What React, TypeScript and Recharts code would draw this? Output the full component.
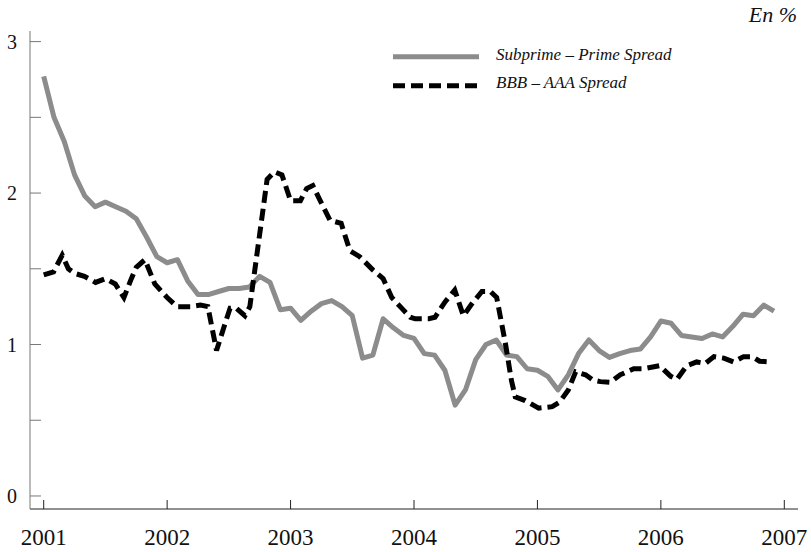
import React from 'react';
import { LineChart, Line, XAxis, YAxis, Legend } from 'recharts';

// Subprime – Prime spread, monthly from Jan 2001 to Dec 2006 (%)
const subprimeValues = [
  2.77, 2.50, 2.34, 2.12, 1.98, 1.91, 1.94, 1.91, 1.88, 1.83, 1.71, 1.58,
  1.54, 1.56, 1.42, 1.33, 1.33, 1.35, 1.37, 1.37, 1.38, 1.45, 1.41, 1.23,
  1.24, 1.16, 1.22, 1.27, 1.29, 1.25, 1.19, 0.91, 0.93, 1.17, 1.11, 1.06,
  1.04, 0.94, 0.93, 0.83, 0.60, 0.70, 0.90, 1.00, 1.03, 0.93, 0.92, 0.84,
  0.83, 0.79, 0.70, 0.80, 0.94, 1.03, 0.96, 0.915, 0.94, 0.96, 0.97, 1.05,
  1.155, 1.14, 1.06, 1.05, 1.04, 1.07, 1.05, 1.12, 1.20, 1.19, 1.26, 1.22,
];
const subprimeStartYear = 2001;

// BBB – AAA spread (decimal year, %)
const bbbDates = [
  2001.0, 2001.08, 2001.15, 2001.2, 2001.25, 2001.33, 2001.42, 2001.5, 2001.58, 2001.65,
  2001.71, 2001.75, 2001.82, 2001.9, 2002.0, 2002.08, 2002.19, 2002.27, 2002.33, 2002.4,
  2002.47, 2002.51, 2002.56, 2002.63, 2002.67, 2002.81, 2002.87, 2002.93, 2003.0, 2003.08,
  2003.13, 2003.18, 2003.24, 2003.32, 2003.41, 2003.48, 2003.56, 2003.67, 2003.75, 2003.82,
  2003.9, 2003.97, 2004.01, 2004.12, 2004.17, 2004.25, 2004.33, 2004.4, 2004.47, 2004.55,
  2004.62, 2004.67, 2004.74, 2004.79, 2004.82, 2004.9, 2005.01, 2005.12, 2005.18, 2005.25,
  2005.31, 2005.39, 2005.45, 2005.51, 2005.59, 2005.67, 2005.78, 2005.86, 2005.99, 2006.08,
  2006.13, 2006.21, 2006.29, 2006.36, 2006.43, 2006.51, 2006.59, 2006.67, 2006.74, 2006.8,
  2006.89,
];
const bbbValues = [
  1.46, 1.48, 1.59, 1.5, 1.47, 1.45, 1.41, 1.435, 1.4, 1.31,
  1.435, 1.51, 1.56, 1.4, 1.31, 1.25, 1.25, 1.26, 1.25, 0.96,
  1.14, 1.24, 1.24, 1.19, 1.25, 2.09, 2.14, 2.12, 1.95, 1.95,
  2.03, 2.05, 1.95, 1.82, 1.8, 1.62, 1.58, 1.49, 1.435, 1.31,
  1.24, 1.18, 1.17, 1.17, 1.18, 1.28, 1.36, 1.19, 1.27, 1.35,
  1.35, 1.31, 1.01, 0.76, 0.655, 0.63, 0.58, 0.59, 0.62, 0.7,
  0.82, 0.8, 0.765, 0.755, 0.75, 0.8, 0.84, 0.84, 0.86, 0.79,
  0.77, 0.86, 0.885, 0.875, 0.92, 0.91, 0.885, 0.92, 0.92, 0.89,
  0.885,
];

const seriesNames = ['Subprime – Prime Spread', 'BBB – AAA Spread'];
const yearTicks = [2001, 2002, 2003, 2004, 2005, 2006, 2007];
const valueTicks = [0, 0.5, 1, 1.5, 2, 2.5, 3];
const unitLabel = 'En %';

const subprimeData = subprimeValues.map((v, i) => ({ t: subprimeStartYear + i / 12, v }));
const bbbData = bbbDates.map((t, i) => ({ t, v: bbbValues[i] }));

const X_DOMAIN: [number, number] = [2000.889, 2007.111];
const Y_DOMAIN: [number, number] = [-0.086, 3.07];
const FONT = "'Liberation Serif', 'DejaVu Serif', 'Times New Roman', Times, serif";

const renderLegend = (props: any) => {
  const payload = [...(props.payload || [])].sort(
    (a: any, b: any) => seriesNames.indexOf(a.value) - seriesNames.indexOf(b.value)
  );
  return (
    <svg width={300} height={65} style={{ display: 'block' }}>
      {payload.map((e: any, i: number) => (
        <g key={i}>
          <line
            x1={13}
            x2={99}
            y1={21.7 + i * 29}
            y2={21.7 + i * 29}
            stroke={e.color}
            strokeWidth={5}
            strokeDasharray={e.payload && e.payload.strokeDasharray ? e.payload.strokeDasharray : undefined}
          />
          <text
            x={116}
            y={25 + i * 28.3}
            style={{ fontFamily: FONT, fontStyle: 'italic', fontSize: 17 }}
            fill="#111"
          >
            {e.value}
          </text>
        </g>
      ))}
    </svg>
  );
};

export default function App() {
  return (
    <div style={{ position: 'absolute', left: 0, top: 0, width: 811, height: 552, background: '#fff', fontFamily: FONT }}>
      <svg width={811} height={30} style={{ position: 'absolute', left: 0, top: 0 }}>
        <text x={797} y={22} textAnchor="end" style={{ fontFamily: FONT, fontStyle: 'italic', fontSize: 22 }} fill="#111">
          {unitLabel}
        </text>
      </svg>
      <LineChart width={811} height={552} margin={{ top: 31, right: 13, left: 0, bottom: 0 }} style={{ fontFamily: FONT }}>
        <XAxis
          type="number"
          dataKey="t"
          domain={X_DOMAIN}
          allowDataOverflow
          ticks={yearTicks}
          interval={0}
          height={43}
          tickSize={-9}
          tickMargin={29}
          stroke="#222"
          tick={{ fill: '#111', fontSize: 23, style: { fontFamily: FONT } }}
        />
        <XAxis
          xAxisId="top"
          orientation="top"
          type="number"
          domain={X_DOMAIN}
          allowDataOverflow
          height={0}
          tick={false}
          tickLine={false}
          stroke="#888"
        />
        <YAxis
          type="number"
          domain={Y_DOMAIN}
          allowDataOverflow
          ticks={valueTicks}
          interval={0}
          width={30}
          tickSize={-11}
          tickMargin={24}
          stroke="#777"
          tickFormatter={(v: number) => (Number.isInteger(v) ? String(v) : '')}
          tick={{ fill: '#111', fontSize: 20, style: { fontFamily: FONT } }}
        />
        <YAxis
          yAxisId="right"
          orientation="right"
          type="number"
          domain={Y_DOMAIN}
          allowDataOverflow
          width={0}
          tick={false}
          tickLine={false}
          stroke="#888"
        />
        <Legend
          layout="vertical"
          align="center"
          verticalAlign="middle"
          content={renderLegend}
          wrapperStyle={{ position: 'absolute', left: 380, top: 35, width: 300, height: 65 }}
        />
        <Line
          data={subprimeData}
          dataKey="v"
          name={seriesNames[0]}
          type="linear"
          stroke="#8c8c8c"
          strokeWidth={5}
          strokeLinejoin="round"
          dot={false}
          activeDot={false}
          isAnimationActive={false}
        />
        <Line
          data={bbbData}
          dataKey="v"
          name={seriesNames[1]}
          type="linear"
          stroke="#000"
          strokeWidth={5}
          strokeDasharray="12 6"
          dot={false}
          activeDot={false}
          isAnimationActive={false}
        />
      </LineChart>
    </div>
  );
}
